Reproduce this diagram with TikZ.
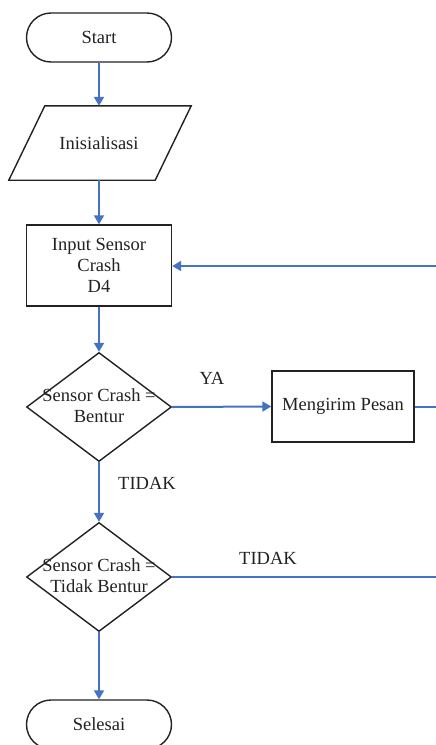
\documentclass[tikz,border=0pt]{standalone}
\usepackage{fontspec}
\setmainfont{Liberation Serif}
\usetikzlibrary{shapes.geometric,shapes.misc,arrows.meta}
\definecolor{flowblue}{HTML}{4472C4}
\definecolor{ink}{HTML}{222222}
\begin{document}
\begin{tikzpicture}[x=1pt,y=-1pt,
  every node/.style={font=\fontsize{18.5}{21}\selectfont, text=ink},
  shapebox/.style={draw=ink, line width=1.4pt, fill=white},
  term/.style={shapebox, rounded rectangle, minimum width=145pt, minimum height=49pt, inner sep=0pt},
  iobox/.style={rectangle, minimum width=182pt, minimum height=74pt, inner sep=0pt},
  procbox/.style={shapebox, rectangle, align=center, inner sep=0pt},
  decision/.style={shapebox, diamond, minimum width=145pt, minimum height=109pt, inner sep=0pt},
  dtext/.style={align=center, inner sep=0pt},
  lbl/.style={inner sep=0pt},
  flowline/.style={draw=flowblue, line width=2pt},
  flow/.style={flowline, -{Triangle[width=10pt,length=9pt]}}
]
\clip (0,0) rectangle (436,745);
\fill[white] (0,0) rectangle (436,745);

\node[term] (start) at (99,37.5) {Start};
\node[iobox] (inis) at (100,143) {};
\draw[shapebox] ([xshift=36pt]inis.north west) -- (inis.north east)
  -- ([xshift=-36pt]inis.south east) -- (inis.south west) -- cycle;
\node (inist) at (99,143) {Inisialisasi};
\node[procbox, minimum width=145pt, minimum height=81pt] (input) at (99,265.5) {Input Sensor\\Crash\\D4};
\node[decision] (d1) at (99,407) {};
\node[dtext] (d1t) at (99,406) {Sensor Crash =\\Bentur};
\node[procbox, minimum width=142pt, minimum height=71pt] (msg) at (343,406.5) {Mengirim Pesan};
\node[decision] (d2) at (99,577) {};
\node[dtext] (d2t) at (99,576) {Sensor Crash =\\Tidak Bentur};
\node[term] (end) at (99,724.5) {Selesai};

\node[lbl] (ya) at (212,378) {YA};
\node[lbl] (tidak1) at (147,483) {TIDAK};
\node[lbl] (tidak2) at (268,558) {TIDAK};

\coordinate (fb) at (437,266);
\coordinate (me) at (437,407);
\coordinate (te) at (437,577);

\draw[flow] (start.south) -- (start.south |- inis.north);
\draw[flow] (start.south |- inis.south) -- (input.north);
\draw[flow] (input) -- (d1.north);
\draw[flow] (d1.east) -- (msg.west);
\draw[flow] (d1.south) -- (d2.north);
\draw[flow] (d2.south) -- (end.north);
\draw[flow] (fb) -- (fb -| input.east);
\draw[flowline] (msg.east |- me) -- (me);
\draw[flowline] (d2.east) -- (te);
\end{tikzpicture}
\end{document}
